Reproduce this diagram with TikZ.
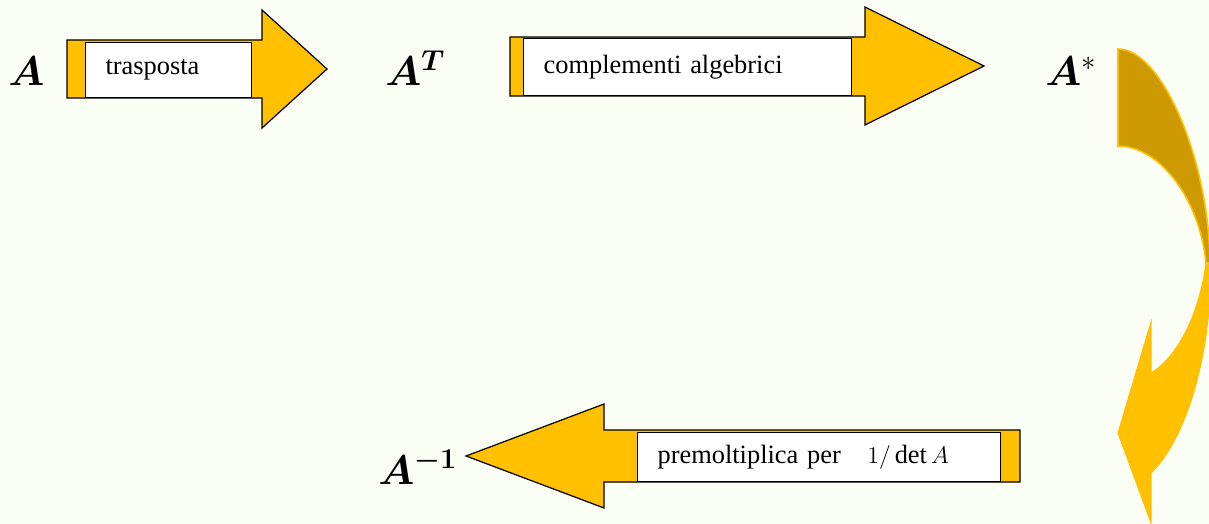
\documentclass[tikz,border=0pt]{standalone}
\usepackage{bm}
\usepackage{fontspec}
\setmainfont{Liberation Serif}
\definecolor{bgc}{HTML}{FBFEF5}
\definecolor{gold}{HTML}{FFC000}
\definecolor{darkgold}{HTML}{CC9A00}

\begin{document}
\begin{tikzpicture}[x=0.5pt, y=-0.5pt,
    barrow/.style={fill=gold, draw=black, line width=0.6pt, line join=miter},
    txtbox/.style={draw=black, fill=white, line width=0.6pt, anchor=north west,
        inner xsep=10pt, align=left, font=\fontsize{13.2}{16}\selectfont},
    mat/.style={anchor=base west, inner sep=0pt, font=\fontsize{21.5}{26}\selectfont}]

    % Background
    \fill[bgc] (0,0) rectangle (1209,524);
    \useasboundingbox (0,0) rectangle (1209,524);

    % Block arrows
    \draw[barrow] (67,40) -- (262,40) -- (262,10) -- (327,69) -- (262,128) -- (262,98) -- (67,98) -- cycle;
    \draw[barrow] (510,37) -- (865,37) -- (865,7) -- (984,66) -- (865,125) -- (865,96) -- (510,96) -- cycle;
    \draw[barrow] (1020,430) -- (604,430) -- (604,404) -- (466,456) -- (604,508) -- (604,482) -- (1020,482) -- cycle;

    % Curved arrow
    \filldraw[fill=gold, draw=gold, line width=0.5pt] (1206,263)
        .. controls (1200,310) and (1180,355) .. (1151,373) -- (1151,322) -- (1118,433)
        -- (1151,523) -- (1151,473) .. controls (1185,440) and (1211,360) .. (1211,263) -- cycle;
    \filldraw[fill=darkgold, draw=gold, line width=0.8pt] (1118,49)
        .. controls (1162,49) and (1209,160) .. (1210,263) -- (1206,263)
        .. controls (1200,200) and (1160,146) .. (1118,146) -- cycle;

    % Text boxes
    \node[txtbox, minimum width=83pt, minimum height=27.5pt, text width=63pt] (trasp) at (85,42) {trasposta};
    \node[txtbox, minimum width=164pt, minimum height=28.5pt, text width=144pt] (compl) at (523,38) {complementi algebrici};
    \node[txtbox, minimum width=181.5pt, minimum height=24.5pt, text width=161.5pt] (premolt) at (637,432) {premoltiplica per \ \ $1/\det A$};

    % Matrices
    \node[mat] (A) at (8,86) {$\bm{A}$};
    \node[mat] (AT) at (385,86) {$\bm{A}^{\bm{T}}$};
    \node[mat] (Astar) at (1045,86) {$\bm{A}^{*}$};
    \node[mat] (Ainv) at (378,484) {$\bm{A}^{\bm{-1}}$};
\end{tikzpicture}
\end{document}
